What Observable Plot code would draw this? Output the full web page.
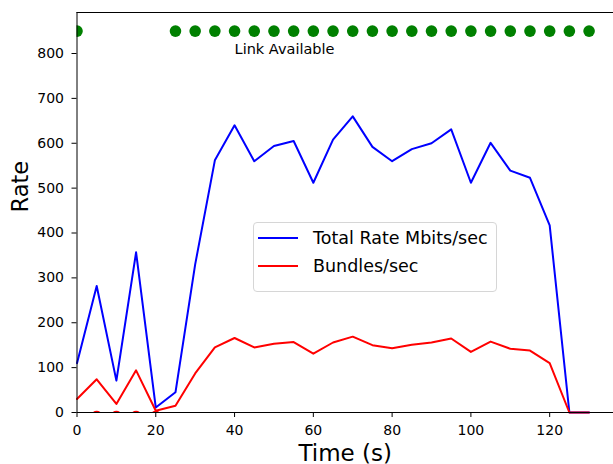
<!DOCTYPE html>
<html>
<head>
<meta charset="utf-8">
<script src="https://cdn.jsdelivr.net/npm/d3@7"></script>
<script src="https://cdn.jsdelivr.net/npm/@observablehq/plot@0.6"></script>
<style>
  body { margin: 0; background: #fff; }
  #chart { position: relative; width: 613px; height: 464px; font-family: "DejaVu Sans", sans-serif; }
  #chart svg { display: block; }
  .legend {
    position: absolute; left: 253px; top: 222px; width: 244px; height: 70px;
    box-sizing: border-box; border: 1px solid #d6d6d6; border-radius: 4px;
    background: rgba(255,255,255,0.8); color: #000;
  }
  .legend .row { position: absolute; left: 4px; height: 20px; display: flex; align-items: center; font-size: 17.5px; white-space: nowrap; }
  .legend .swatch { width: 40px; height: 2px; margin-right: 15px; }
</style>
</head>
<body>
<div id="chart"></div>
<script>
// Sample times (s)
const time = [0, 5, 10, 15, 20, 25, 30, 35, 40, 45, 50, 55, 60, 65, 70, 75, 80, 85, 90, 95, 100, 105, 110, 115, 120, 125, 130];
// Total rate in Mbits/sec
const totalRate = [110, 282, 71, 357, 11, 45, 330, 562, 640, 560, 594, 605, 512, 608, 660, 592, 560, 587, 600, 631, 512, 601, 539, 523, 417, 0, 0];
// Bundles per second
const bundles = [30, 74, 19, 94, 4, 15, 87, 145, 166, 145, 153, 157, 131, 156, 169, 150, 143, 151, 156, 165, 135, 158, 142, 138, 110, 0, 0];
// Link state markers
const linkUp = [0, 25, 30, 35, 40, 45, 50, 55, 60, 65, 70, 75, 80, 85, 90, 95, 100, 105, 110, 115, 120, 125, 130];
const linkDown = [5, 10, 15, 20];
const linkUpLevel = 850;
const linkDownLevel = -9;
// Axis ticks and limits
const xTicks = [0, 20, 40, 60, 80, 100, 120];
const yTicks = [0, 100, 200, 300, 400, 500, 600, 700, 800];
const xMax = 136.2;
const yMax = 891.4;

const series = [
  {label: "Total Rate Mbits/sec", color: "#0000ff"},
  {label: "Bundles/sec", color: "#ff0000"}
];

const chart = Plot.plot({
  width: 613,
  height: 464,
  marginLeft: 76.5,
  marginRight: 0,
  marginTop: 12,
  marginBottom: 52,
  style: {fontFamily: "DejaVu Sans, sans-serif", fontSize: "14px", color: "#000", background: "#fff"},
  x: {domain: [0, xMax]},
  y: {domain: [0, yMax]},
  marks: [
    Plot.line(time, {x: d => d, y: totalRate, stroke: series[0].color, strokeWidth: 2}),
    Plot.line(time, {x: d => d, y: bundles, stroke: series[1].color, strokeWidth: 2}),
    Plot.dot(linkUp, {x: d => d, y: () => linkUpLevel, r: 5.8, fill: "green", clip: true}),
    Plot.dot(linkDown, {x: d => d, y: () => linkDownLevel, r: 5.8, fill: "#ff0000", clip: true}),
    Plot.text(["Link Available"], {x: 40, y: 800, textAnchor: "start", lineAnchor: "bottom", fontSize: 14.5, fill: "#000"}),
    Plot.ruleX([0], {stroke: "#000"}),
    Plot.ruleY([0], {stroke: "#000"}),
    Plot.ruleY([yMax], {stroke: "#000"}),
    Plot.axisX({ticks: xTicks, tickSize: 5, tickPadding: 8, fontSize: 14, label: null}),
    Plot.axisY({ticks: yTicks, tickSize: 5, tickPadding: 8, fontSize: 14, label: null}),
    Plot.text(["Time (s)"], {frameAnchor: "bottom", dy: 48, fontSize: 23, fill: "#000"}),
    Plot.text(["Rate"], {frameAnchor: "left", rotate: -90, dx: -56, fontSize: 22.5, fill: "#000"})
  ]
});

const root = document.getElementById("chart");
root.appendChild(chart);

const legend = document.createElement("div");
legend.className = "legend";
series.forEach((s, i) => {
  const row = document.createElement("div");
  row.className = "row";
  row.style.top = (5 + i * 28) + "px";
  const sw = document.createElement("div");
  sw.className = "swatch";
  sw.style.background = s.color;
  const label = document.createElement("span");
  label.textContent = s.label;
  row.appendChild(sw);
  row.appendChild(label);
  legend.appendChild(row);
});
root.appendChild(legend);
</script>
</body>
</html>
